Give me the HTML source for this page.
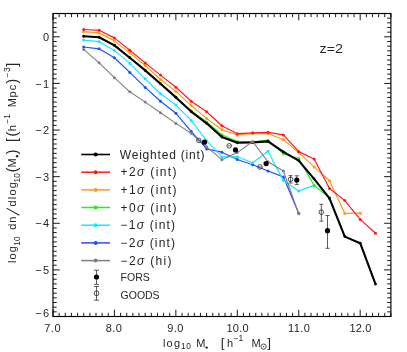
<!DOCTYPE html>
<html><head><meta charset="utf-8"><title>z=2 mass function</title>
<style>html,body{margin:0;padding:0;background:#fff;}svg{display:block;will-change:transform;}</style></head>
<body>
<svg width="407" height="352" viewBox="0 0 407 352" font-family="'Liberation Sans', sans-serif" font-size="11.0" fill="#262626">
<rect width="407" height="352" fill="#fff"/>
<defs><filter id="ga" x="0" y="0" width="407" height="352" filterUnits="userSpaceOnUse"><feOffset dx="0" dy="0"/></filter></defs>
<g filter="url(#ga)">
<path d="M53.00 316.50v-6.80M53.00 13.50v6.80M59.14 316.50v-3.70M59.14 13.50v3.70M65.29 316.50v-3.70M65.29 13.50v3.70M71.43 316.50v-3.70M71.43 13.50v3.70M77.57 316.50v-3.70M77.57 13.50v3.70M83.72 316.50v-3.70M83.72 13.50v3.70M89.86 316.50v-3.70M89.86 13.50v3.70M96.01 316.50v-3.70M96.01 13.50v3.70M102.15 316.50v-3.70M102.15 13.50v3.70M108.29 316.50v-3.70M108.29 13.50v3.70M114.44 316.50v-6.80M114.44 13.50v6.80M120.58 316.50v-3.70M120.58 13.50v3.70M126.72 316.50v-3.70M126.72 13.50v3.70M132.87 316.50v-3.70M132.87 13.50v3.70M139.01 316.50v-3.70M139.01 13.50v3.70M145.15 316.50v-3.70M145.15 13.50v3.70M151.30 316.50v-3.70M151.30 13.50v3.70M157.44 316.50v-3.70M157.44 13.50v3.70M163.59 316.50v-3.70M163.59 13.50v3.70M169.73 316.50v-3.70M169.73 13.50v3.70M175.87 316.50v-6.80M175.87 13.50v6.80M182.02 316.50v-3.70M182.02 13.50v3.70M188.16 316.50v-3.70M188.16 13.50v3.70M194.30 316.50v-3.70M194.30 13.50v3.70M200.45 316.50v-3.70M200.45 13.50v3.70M206.59 316.50v-3.70M206.59 13.50v3.70M212.73 316.50v-3.70M212.73 13.50v3.70M218.88 316.50v-3.70M218.88 13.50v3.70M225.02 316.50v-3.70M225.02 13.50v3.70M231.17 316.50v-3.70M231.17 13.50v3.70M237.31 316.50v-6.80M237.31 13.50v6.80M243.45 316.50v-3.70M243.45 13.50v3.70M249.60 316.50v-3.70M249.60 13.50v3.70M255.74 316.50v-3.70M255.74 13.50v3.70M261.88 316.50v-3.70M261.88 13.50v3.70M268.03 316.50v-3.70M268.03 13.50v3.70M274.17 316.50v-3.70M274.17 13.50v3.70M280.31 316.50v-3.70M280.31 13.50v3.70M286.46 316.50v-3.70M286.46 13.50v3.70M292.60 316.50v-3.70M292.60 13.50v3.70M298.75 316.50v-6.80M298.75 13.50v6.80M304.89 316.50v-3.70M304.89 13.50v3.70M311.03 316.50v-3.70M311.03 13.50v3.70M317.18 316.50v-3.70M317.18 13.50v3.70M323.32 316.50v-3.70M323.32 13.50v3.70M329.46 316.50v-3.70M329.46 13.50v3.70M335.61 316.50v-3.70M335.61 13.50v3.70M341.75 316.50v-3.70M341.75 13.50v3.70M347.89 316.50v-3.70M347.89 13.50v3.70M354.04 316.50v-3.70M354.04 13.50v3.70M360.18 316.50v-6.80M360.18 13.50v6.80M366.33 316.50v-3.70M366.33 13.50v3.70M372.47 316.50v-3.70M372.47 13.50v3.70M378.61 316.50v-3.70M378.61 13.50v3.70M384.76 316.50v-3.70M384.76 13.50v3.70M390.90 316.50v-3.70M390.90 13.50v3.70M53.00 13.50h3.70M390.90 13.50h-3.70M53.00 18.16h3.70M390.90 18.16h-3.70M53.00 22.82h3.70M390.90 22.82h-3.70M53.00 27.48h3.70M390.90 27.48h-3.70M53.00 32.15h3.70M390.90 32.15h-3.70M53.00 36.81h6.80M390.90 36.81h-6.80M53.00 41.47h3.70M390.90 41.47h-3.70M53.00 46.13h3.70M390.90 46.13h-3.70M53.00 50.79h3.70M390.90 50.79h-3.70M53.00 55.45h3.70M390.90 55.45h-3.70M53.00 60.12h3.70M390.90 60.12h-3.70M53.00 64.78h3.70M390.90 64.78h-3.70M53.00 69.44h3.70M390.90 69.44h-3.70M53.00 74.10h3.70M390.90 74.10h-3.70M53.00 78.76h3.70M390.90 78.76h-3.70M53.00 83.42h6.80M390.90 83.42h-6.80M53.00 88.08h3.70M390.90 88.08h-3.70M53.00 92.75h3.70M390.90 92.75h-3.70M53.00 97.41h3.70M390.90 97.41h-3.70M53.00 102.07h3.70M390.90 102.07h-3.70M53.00 106.73h3.70M390.90 106.73h-3.70M53.00 111.39h3.70M390.90 111.39h-3.70M53.00 116.05h3.70M390.90 116.05h-3.70M53.00 120.72h3.70M390.90 120.72h-3.70M53.00 125.38h3.70M390.90 125.38h-3.70M53.00 130.04h6.80M390.90 130.04h-6.80M53.00 134.70h3.70M390.90 134.70h-3.70M53.00 139.36h3.70M390.90 139.36h-3.70M53.00 144.02h3.70M390.90 144.02h-3.70M53.00 148.68h3.70M390.90 148.68h-3.70M53.00 153.35h3.70M390.90 153.35h-3.70M53.00 158.01h3.70M390.90 158.01h-3.70M53.00 162.67h3.70M390.90 162.67h-3.70M53.00 167.33h3.70M390.90 167.33h-3.70M53.00 171.99h3.70M390.90 171.99h-3.70M53.00 176.65h6.80M390.90 176.65h-6.80M53.00 181.32h3.70M390.90 181.32h-3.70M53.00 185.98h3.70M390.90 185.98h-3.70M53.00 190.64h3.70M390.90 190.64h-3.70M53.00 195.30h3.70M390.90 195.30h-3.70M53.00 199.96h3.70M390.90 199.96h-3.70M53.00 204.62h3.70M390.90 204.62h-3.70M53.00 209.28h3.70M390.90 209.28h-3.70M53.00 213.95h3.70M390.90 213.95h-3.70M53.00 218.61h3.70M390.90 218.61h-3.70M53.00 223.27h6.80M390.90 223.27h-6.80M53.00 227.93h3.70M390.90 227.93h-3.70M53.00 232.59h3.70M390.90 232.59h-3.70M53.00 237.25h3.70M390.90 237.25h-3.70M53.00 241.92h3.70M390.90 241.92h-3.70M53.00 246.58h3.70M390.90 246.58h-3.70M53.00 251.24h3.70M390.90 251.24h-3.70M53.00 255.90h3.70M390.90 255.90h-3.70M53.00 260.56h3.70M390.90 260.56h-3.70M53.00 265.22h3.70M390.90 265.22h-3.70M53.00 269.88h6.80M390.90 269.88h-6.80M53.00 274.55h3.70M390.90 274.55h-3.70M53.00 279.21h3.70M390.90 279.21h-3.70M53.00 283.87h3.70M390.90 283.87h-3.70M53.00 288.53h3.70M390.90 288.53h-3.70M53.00 293.19h3.70M390.90 293.19h-3.70M53.00 297.85h3.70M390.90 297.85h-3.70M53.00 302.52h3.70M390.90 302.52h-3.70M53.00 307.18h3.70M390.90 307.18h-3.70M53.00 311.84h3.70M390.90 311.84h-3.70M53.00 316.50h6.80M390.90 316.50h-6.80" stroke="#000" stroke-width="0.9" fill="none"/>
<rect x="53.00" y="13.50" width="337.90" height="303.00" fill="none" stroke="#000" stroke-width="1.15"/>
<polyline points="83.7,47.0 99.1,48.8 114.4,57.8 129.8,72.4 145.2,87.4 160.5,101.3 175.9,113.3 191.2,131.4 206.6,148.9 221.9,152.2 237.3,159.5 252.7,164.7 268.0,171.0 283.4,176.9 298.7,213.3" fill="none" stroke="#1f4fff" stroke-width="1.2" stroke-linejoin="round"/>
<g fill="#1f4fff"><circle cx="83.7" cy="47.0" r="1.5"/><circle cx="99.1" cy="48.8" r="1.5"/><circle cx="114.4" cy="57.8" r="1.5"/><circle cx="129.8" cy="72.4" r="1.5"/><circle cx="145.2" cy="87.4" r="1.5"/><circle cx="160.5" cy="101.3" r="1.5"/><circle cx="175.9" cy="113.3" r="1.5"/><circle cx="191.2" cy="131.4" r="1.5"/><circle cx="206.6" cy="148.9" r="1.5"/><circle cx="221.9" cy="152.2" r="1.5"/><circle cx="237.3" cy="159.5" r="1.5"/><circle cx="252.7" cy="164.7" r="1.5"/><circle cx="268.0" cy="171.0" r="1.5"/><circle cx="283.4" cy="176.9" r="1.5"/><circle cx="298.7" cy="213.3" r="1.5"/></g>
<polyline points="83.7,40.1 99.1,41.7 114.4,50.4 129.8,63.4 145.2,78.8 160.5,93.8 175.9,105.1 191.2,120.4 206.6,140.7 221.9,156.9 237.3,156.7 252.7,162.8 268.0,151.2 283.4,180.6 298.7,191.1 314.1,185.4" fill="none" stroke="#19e6ff" stroke-width="1.2" stroke-linejoin="round"/>
<g fill="#19e6ff"><circle cx="83.7" cy="40.1" r="1.5"/><circle cx="99.1" cy="41.7" r="1.5"/><circle cx="114.4" cy="50.4" r="1.5"/><circle cx="129.8" cy="63.4" r="1.5"/><circle cx="145.2" cy="78.8" r="1.5"/><circle cx="160.5" cy="93.8" r="1.5"/><circle cx="175.9" cy="105.1" r="1.5"/><circle cx="191.2" cy="120.4" r="1.5"/><circle cx="206.6" cy="140.7" r="1.5"/><circle cx="221.9" cy="156.9" r="1.5"/><circle cx="237.3" cy="156.7" r="1.5"/><circle cx="252.7" cy="162.8" r="1.5"/><circle cx="268.0" cy="151.2" r="1.5"/><circle cx="283.4" cy="180.6" r="1.5"/><circle cx="298.7" cy="191.1" r="1.5"/><circle cx="314.1" cy="185.4" r="1.5"/></g>
<polyline points="83.7,36.0 99.1,37.0 114.4,45.1 129.8,57.4 145.2,70.1 160.5,83.5 175.9,97.1 191.2,111.0 206.6,122.0 221.9,134.7 237.3,141.6 252.7,142.0 268.0,140.2 283.4,153.7 298.7,158.5 314.1,185.4 329.5,197.8" fill="none" stroke="#22ee22" stroke-width="1.2" stroke-linejoin="round"/>
<g fill="#22ee22"><circle cx="83.7" cy="36.0" r="1.5"/><circle cx="99.1" cy="37.0" r="1.5"/><circle cx="114.4" cy="45.1" r="1.5"/><circle cx="129.8" cy="57.4" r="1.5"/><circle cx="145.2" cy="70.1" r="1.5"/><circle cx="160.5" cy="83.5" r="1.5"/><circle cx="175.9" cy="97.1" r="1.5"/><circle cx="191.2" cy="111.0" r="1.5"/><circle cx="206.6" cy="122.0" r="1.5"/><circle cx="221.9" cy="134.7" r="1.5"/><circle cx="237.3" cy="141.6" r="1.5"/><circle cx="252.7" cy="142.0" r="1.5"/><circle cx="268.0" cy="140.2" r="1.5"/><circle cx="283.4" cy="153.7" r="1.5"/><circle cx="298.7" cy="158.5" r="1.5"/><circle cx="314.1" cy="185.4" r="1.5"/><circle cx="329.5" cy="197.8" r="1.5"/></g>
<polyline points="83.7,31.7 99.1,32.9 114.4,40.9 129.8,52.9 145.2,65.5 160.5,79.5 175.9,91.4 191.2,105.6 206.6,118.4 221.9,129.7 237.3,134.9 252.7,133.6 268.0,133.6 283.4,139.5 298.7,152.6 314.1,166.9 329.5,180.7 344.8,213.4 360.2,213.2" fill="none" stroke="#ff9a1a" stroke-width="1.2" stroke-linejoin="round"/>
<g fill="#ff9a1a"><circle cx="83.7" cy="31.7" r="1.5"/><circle cx="99.1" cy="32.9" r="1.5"/><circle cx="114.4" cy="40.9" r="1.5"/><circle cx="129.8" cy="52.9" r="1.5"/><circle cx="145.2" cy="65.5" r="1.5"/><circle cx="160.5" cy="79.5" r="1.5"/><circle cx="175.9" cy="91.4" r="1.5"/><circle cx="191.2" cy="105.6" r="1.5"/><circle cx="206.6" cy="118.4" r="1.5"/><circle cx="221.9" cy="129.7" r="1.5"/><circle cx="237.3" cy="134.9" r="1.5"/><circle cx="252.7" cy="133.6" r="1.5"/><circle cx="268.0" cy="133.6" r="1.5"/><circle cx="283.4" cy="139.5" r="1.5"/><circle cx="298.7" cy="152.6" r="1.5"/><circle cx="314.1" cy="166.9" r="1.5"/><circle cx="329.5" cy="180.7" r="1.5"/><circle cx="344.8" cy="213.4" r="1.5"/><circle cx="360.2" cy="213.2" r="1.5"/></g>
<polyline points="83.7,29.5 99.1,30.3 114.4,37.9 129.8,50.3 145.2,62.9 160.5,75.1 175.9,87.2 191.2,101.3 206.6,111.8 221.9,125.8 237.3,133.7 252.7,132.8 268.0,132.3 283.4,134.9 298.7,151.6 314.1,159.0 329.5,188.5 344.8,200.6 360.2,219.4 375.5,233.2" fill="none" stroke="#ff1a1a" stroke-width="1.2" stroke-linejoin="round"/>
<g fill="#ff1a1a"><circle cx="83.7" cy="29.5" r="1.5"/><circle cx="99.1" cy="30.3" r="1.5"/><circle cx="114.4" cy="37.9" r="1.5"/><circle cx="129.8" cy="50.3" r="1.5"/><circle cx="145.2" cy="62.9" r="1.5"/><circle cx="160.5" cy="75.1" r="1.5"/><circle cx="175.9" cy="87.2" r="1.5"/><circle cx="191.2" cy="101.3" r="1.5"/><circle cx="206.6" cy="111.8" r="1.5"/><circle cx="221.9" cy="125.8" r="1.5"/><circle cx="237.3" cy="133.7" r="1.5"/><circle cx="252.7" cy="132.8" r="1.5"/><circle cx="268.0" cy="132.3" r="1.5"/><circle cx="283.4" cy="134.9" r="1.5"/><circle cx="298.7" cy="151.6" r="1.5"/><circle cx="314.1" cy="159.0" r="1.5"/><circle cx="329.5" cy="188.5" r="1.5"/><circle cx="344.8" cy="200.6" r="1.5"/><circle cx="360.2" cy="219.4" r="1.5"/><circle cx="375.5" cy="233.2" r="1.5"/></g>
<polyline points="83.7,36.3 99.1,37.3 114.4,45.4 129.8,57.7 145.2,70.4 160.5,83.8 175.9,97.4 191.2,111.6 206.6,123.3 221.9,137.0 237.3,142.8 252.7,142.4 268.0,141.4 283.4,151.8 298.7,160.6 314.1,178.9 329.5,198.4 344.8,236.6 360.2,243.2 375.5,284.1" fill="none" stroke="#000000" stroke-width="2.1" stroke-linejoin="round"/>
<g fill="#000000"><circle cx="83.7" cy="36.3" r="1.4"/><circle cx="99.1" cy="37.3" r="1.4"/><circle cx="114.4" cy="45.4" r="1.4"/><circle cx="129.8" cy="57.7" r="1.4"/><circle cx="145.2" cy="70.4" r="1.4"/><circle cx="160.5" cy="83.8" r="1.4"/><circle cx="175.9" cy="97.4" r="1.4"/><circle cx="191.2" cy="111.6" r="1.4"/><circle cx="206.6" cy="123.3" r="1.4"/><circle cx="221.9" cy="137.0" r="1.4"/><circle cx="237.3" cy="142.8" r="1.4"/><circle cx="252.7" cy="142.4" r="1.4"/><circle cx="268.0" cy="141.4" r="1.4"/><circle cx="283.4" cy="151.8" r="1.4"/><circle cx="298.7" cy="160.6" r="1.4"/><circle cx="314.1" cy="178.9" r="1.4"/><circle cx="329.5" cy="198.4" r="1.4"/><circle cx="344.8" cy="236.6" r="1.4"/><circle cx="360.2" cy="243.2" r="1.4"/><circle cx="375.5" cy="284.1" r="1.4"/></g>
<polyline points="83.7,49.4 99.1,62.8 114.4,77.7 129.8,91.8 145.2,102.1 160.5,112.7 175.9,123.4 191.2,133.3 206.6,146.8 221.9,159.7 237.3,152.6 252.7,141.5 268.0,161.8 283.4,171.0 298.7,213.7" fill="none" stroke="#808080" stroke-width="1.1" stroke-linejoin="round"/>
<g fill="#808080"><circle cx="83.7" cy="49.4" r="1.5"/><circle cx="99.1" cy="62.8" r="1.5"/><circle cx="114.4" cy="77.7" r="1.5"/><circle cx="129.8" cy="91.8" r="1.5"/><circle cx="145.2" cy="102.1" r="1.5"/><circle cx="160.5" cy="112.7" r="1.5"/><circle cx="175.9" cy="123.4" r="1.5"/><circle cx="191.2" cy="133.3" r="1.5"/><circle cx="206.6" cy="146.8" r="1.5"/><circle cx="221.9" cy="159.7" r="1.5"/><circle cx="237.3" cy="152.6" r="1.5"/><circle cx="252.7" cy="141.5" r="1.5"/><circle cx="268.0" cy="161.8" r="1.5"/><circle cx="283.4" cy="171.0" r="1.5"/><circle cx="298.7" cy="213.7" r="1.5"/></g>
<circle cx="198.8" cy="140.4" r="2.3" fill="none" stroke="#222" stroke-width="0.8"/>
<path d="M197.0 140.4h3.6" stroke="#444" stroke-width="0.7"/>
<circle cx="229.2" cy="145.8" r="2.3" fill="none" stroke="#222" stroke-width="0.8"/>
<path d="M227.4 145.8h3.6" stroke="#444" stroke-width="0.7"/>
<circle cx="260.0" cy="166.9" r="2.3" fill="none" stroke="#222" stroke-width="0.8"/>
<path d="M258.2 166.9h3.6" stroke="#444" stroke-width="0.7"/>
<path d="M290.6 175.6V183.0M288.6 175.6h4.0M288.6 183.0h4.0" stroke="#333" stroke-width="0.8" fill="none"/>
<circle cx="290.6" cy="179.3" r="2.3" fill="none" stroke="#222" stroke-width="0.8"/>
<path d="M321.3 204.3V221.2M319.3 204.3h4.0M319.3 221.2h4.0" stroke="#333" stroke-width="0.8" fill="none"/>
<circle cx="321.3" cy="212.2" r="2.3" fill="none" stroke="#222" stroke-width="0.8"/>
<circle cx="204.5" cy="142.2" r="2.6" fill="#000"/>
<circle cx="235.5" cy="149.9" r="2.6" fill="#000"/>
<circle cx="266.1" cy="163.6" r="2.6" fill="#000"/>
<path d="M296.8 175.8V184.6M294.8 175.8h4.0M294.8 184.6h4.0" stroke="#333" stroke-width="0.8" fill="none"/>
<circle cx="296.8" cy="180.1" r="2.6" fill="#000"/>
<path d="M327.5 215.5V248.3M325.5 215.5h4.0M325.5 248.3h4.0" stroke="#333" stroke-width="0.8" fill="none"/>
<circle cx="327.5" cy="230.7" r="2.6" fill="#000"/>
<path d="M81.2 154.5H110" stroke="#000000" stroke-width="1.6"/>
<circle cx="95.6" cy="154.5" r="2.0" fill="#000000"/>
<text x="119.8" y="158.7" font-size="12" textLength="84.8" lengthAdjust="spacing">Weighted (int)</text>
<path d="M81.2 172.2H110" stroke="#ff1a1a" stroke-width="1.5"/>
<circle cx="95.6" cy="172.2" r="2.0" fill="#ff1a1a"/>
<text x="120.6" y="176.4" font-size="12" textLength="55.8" lengthAdjust="spacing">+2<tspan font-style="italic">σ</tspan> (int)</text>
<path d="M81.2 189.9H110" stroke="#ff9a1a" stroke-width="1.5"/>
<circle cx="95.6" cy="189.9" r="2.0" fill="#ff9a1a"/>
<text x="120.6" y="194.1" font-size="12" textLength="55.8" lengthAdjust="spacing">+1<tspan font-style="italic">σ</tspan> (int)</text>
<path d="M81.2 207.5H110" stroke="#22ee22" stroke-width="1.5"/>
<circle cx="95.6" cy="207.5" r="2.0" fill="#22ee22"/>
<text x="120.6" y="211.7" font-size="12" textLength="55.8" lengthAdjust="spacing">+0<tspan font-style="italic">σ</tspan> (int)</text>
<path d="M81.2 225.2H110" stroke="#19e6ff" stroke-width="1.5"/>
<circle cx="95.6" cy="225.2" r="2.0" fill="#19e6ff"/>
<text x="120.6" y="229.4" font-size="12" textLength="54.5" lengthAdjust="spacing">−1<tspan font-style="italic">σ</tspan> (int)</text>
<path d="M81.2 242.9H110" stroke="#1f4fff" stroke-width="1.5"/>
<circle cx="95.6" cy="242.9" r="2.0" fill="#1f4fff"/>
<text x="120.6" y="247.1" font-size="12" textLength="54.5" lengthAdjust="spacing">−2<tspan font-style="italic">σ</tspan> (int)</text>
<path d="M81.2 260.6H110" stroke="#808080" stroke-width="1.5"/>
<circle cx="95.6" cy="260.6" r="2.0" fill="#808080"/>
<text x="120.6" y="264.8" font-size="12" textLength="51.0" lengthAdjust="spacing">−2<tspan font-style="italic">σ</tspan> (hi)</text>
<path d="M96.5 270.2V284.4M94.0 270.2h5.0M94.0 284.4h5.0" stroke="#333" stroke-width="0.8" fill="none"/>
<circle cx="96.5" cy="277.0" r="2.6" fill="#000"/>
<path d="M96.5 286.5V300.2M94.0 286.5h5.0M94.0 300.2h5.0" stroke="#333" stroke-width="0.8" fill="none"/>
<circle cx="96.5" cy="293.3" r="2.4" fill="none" stroke="#222" stroke-width="0.8"/>
<text x="120.6" y="281.4" font-size="11.6" textLength="29.3" lengthAdjust="spacingAndGlyphs">FORS</text>
<text x="120.6" y="298.9" font-size="11.6" textLength="39.0" lengthAdjust="spacingAndGlyphs">GOODS</text>
<text x="319.6" y="52.9" font-size="12" textLength="23.4" lengthAdjust="spacingAndGlyphs">z=2</text>
<text x="52.40" y="332.2" text-anchor="middle" textLength="16.2" lengthAdjust="spacing">7.0</text>
<text x="113.84" y="332.2" text-anchor="middle" textLength="16.2" lengthAdjust="spacing">8.0</text>
<text x="175.27" y="332.2" text-anchor="middle" textLength="16.2" lengthAdjust="spacing">9.0</text>
<text x="237.51" y="332.2" text-anchor="middle" textLength="22.0" lengthAdjust="spacing">10.0</text>
<text x="298.95" y="332.2" text-anchor="middle" textLength="22.0" lengthAdjust="spacing">11.0</text>
<text x="360.38" y="332.2" text-anchor="middle" textLength="22.0" lengthAdjust="spacing">12.0</text>
<text x="49.2" y="40.9" text-anchor="end">0</text>
<text x="49.2" y="87.5" text-anchor="end" textLength="14" lengthAdjust="spacing">−1</text>
<text x="49.2" y="134.1" text-anchor="end" textLength="14" lengthAdjust="spacing">−2</text>
<text x="49.2" y="180.8" text-anchor="end" textLength="14" lengthAdjust="spacing">−3</text>
<text x="49.2" y="227.4" text-anchor="end" textLength="14" lengthAdjust="spacing">−4</text>
<text x="49.2" y="274.0" text-anchor="end" textLength="14" lengthAdjust="spacing">−5</text>
<text x="49.2" y="317.2" text-anchor="end" textLength="14" lengthAdjust="spacing">−6</text>
<text x="163" y="346.9" textLength="17" lengthAdjust="spacing">log</text>
<text x="181.0" y="349.3" font-size="8.4" textLength="9.8" lengthAdjust="spacing">10</text>
<text x="196.2" y="346.9">M</text>
<circle cx="206.6" cy="347.6" r="1.2" fill="#262626"/>
<text x="220.8" y="346.7" font-size="13.6">[</text>
<text x="227" y="346.9">h</text>
<text x="233.8" y="341.3" font-size="8.4" textLength="9.4" lengthAdjust="spacing">−1</text>
<text x="251.6" y="346.9">M</text>
<circle cx="263.6" cy="346.6" r="2.6" fill="none" stroke="#262626" stroke-width="0.8"/>
<circle cx="263.6" cy="346.6" r="0.7" fill="#262626"/>
<text x="267.2" y="346.7" font-size="13.6">]</text>
<text transform="translate(16.4 254.6) rotate(-90)" text-anchor="middle" textLength="17.0" lengthAdjust="spacing">log</text>
<text transform="translate(19.9 241.0) rotate(-90)" text-anchor="middle" font-size="8.4" textLength="9.4" lengthAdjust="spacing">10</text>
<text transform="translate(16.4 226.8) rotate(-90)" text-anchor="middle">d</text>
<text transform="translate(16.4 219.7) rotate(-90)" text-anchor="middle">n</text>
<path d="M19.3 215.3L6.6 208.1" stroke="#262626" stroke-width="1.05" fill="none"/>
<text transform="translate(16.4 203.4) rotate(-90)" text-anchor="middle">d</text>
<text transform="translate(16.4 190.6) rotate(-90)" text-anchor="middle" textLength="17.2" lengthAdjust="spacing">log</text>
<text transform="translate(19.9 177.7) rotate(-90)" text-anchor="middle" font-size="8.4" textLength="9.4" lengthAdjust="spacing">10</text>
<text transform="translate(16.8 170.0) rotate(-90)" text-anchor="middle" font-size="14.2">(</text>
<text transform="translate(16.4 162.8) rotate(-90)" text-anchor="middle">M</text>
<circle cx="17.1" cy="156.2" r="1.2" fill="#262626"/>
<text transform="translate(16.8 152.0) rotate(-90)" text-anchor="middle" font-size="14.2">)</text>
<text transform="translate(16.8 140.0) rotate(-90)" text-anchor="middle" font-size="14.2">[</text>
<text transform="translate(16.8 134.2) rotate(-90)" text-anchor="middle" font-size="14.2">(</text>
<text transform="translate(16.4 128.2) rotate(-90)" text-anchor="middle">h</text>
<text transform="translate(10.4 118.9) rotate(-90)" text-anchor="middle" font-size="8.4" textLength="9.6" lengthAdjust="spacing">−1</text>
<text transform="translate(16.4 102.7) rotate(-90)" text-anchor="middle">M</text>
<text transform="translate(16.4 94.4) rotate(-90)" text-anchor="middle">p</text>
<text transform="translate(16.4 87.5) rotate(-90)" text-anchor="middle">c</text>
<text transform="translate(16.8 81.2) rotate(-90)" text-anchor="middle" font-size="14.2">)</text>
<text transform="translate(10.4 72.4) rotate(-90)" text-anchor="middle" font-size="8.4" textLength="10.2" lengthAdjust="spacing">−3</text>
<text transform="translate(16.8 64.9) rotate(-90)" text-anchor="middle" font-size="14.2">]</text>
</g>
</svg>
</body></html>
